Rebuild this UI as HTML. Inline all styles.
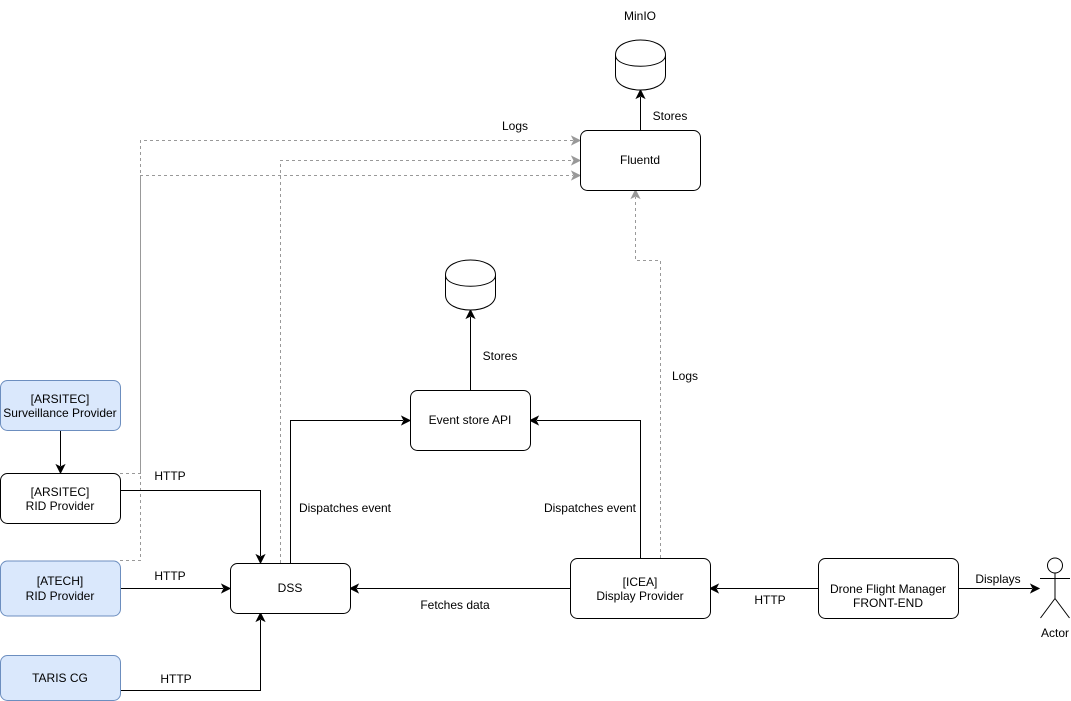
<!DOCTYPE html>
<html><head><meta charset="utf-8"><style>
html,body{margin:0;padding:0;background:#fff;}
svg{display:block;}
text{font-family:"Liberation Sans",Arial,sans-serif;font-size:12px;fill:#000;}
</style></head><body>
<svg width="1071" height="701" viewBox="0 0 1071 701" xmlns="http://www.w3.org/2000/svg">
<!-- dashed log lines -->
<g fill="none" stroke="#999" stroke-dasharray="3 3">
<path d="M120 560.5 H140.5 V140.5 H573"/>
<path d="M120 473.5 H140.5 V175.5 H573"/>
<path d="M280.5 563 V160.5 H573"/>
<path d="M660.5 558 V260.5 H635.5 V197"/>
</g>
<g fill="#999" stroke="#999">
<path d="M580 140.5 L572 136.5 L574 140.5 L572 144.5 Z"/>
<path d="M580 160.5 L572 156.5 L574 160.5 L572 164.5 Z"/>
<path d="M580 175.5 L572 171.5 L574 175.5 L572 179.5 Z"/>
<path d="M635.5 190 L631.5 198 L635.5 196 L639.5 198 Z"/>
</g>

<!-- solid edges -->
<g fill="none" stroke="#000">
<path d="M640.5 130 V97"/>
<path d="M470.5 390 V317"/>
<path d="M290.5 563 V420.5 H403"/>
<path d="M640.5 558 V420.5 H537"/>
<path d="M570 588.5 H357"/>
<path d="M818 588.5 H717"/>
<path d="M958 588.5 H1032"/>
<path d="M60.5 430 V466"/>
<path d="M120 490.5 H260.5 V556"/>
<path d="M120 588.5 H223"/>
<path d="M120 690.5 H260.5 V620"/>
</g>
<g fill="#000" stroke="#000">
<path d="M640.5 90 L636.5 98 L640.5 96 L644.5 98 Z"/>
<path d="M470.5 310 L466.5 318 L470.5 316 L474.5 318 Z"/>
<path d="M410 420.5 L402 416.5 L404 420.5 L402 424.5 Z"/>
<path d="M530 420.5 L538 416.5 L536 420.5 L538 424.5 Z"/>
<path d="M350 588.5 L358 584.5 L356 588.5 L358 592.5 Z"/>
<path d="M710 588.5 L718 584.5 L716 588.5 L718 592.5 Z"/>
<path d="M1039 588.5 L1031 584.5 L1033 588.5 L1031 592.5 Z"/>
<path d="M60.5 473 L56.5 465 L60.5 467 L64.5 465 Z"/>
<path d="M260.5 563 L256.5 555 L260.5 557 L264.5 555 Z"/>
<path d="M230 588.5 L222 584.5 L224 588.5 L222 592.5 Z"/>
<path d="M260.5 613 L256.5 621 L260.5 619 L264.5 621 Z"/>
</g>

<!-- cylinders -->
<g fill="#fff" stroke="#000">
<path d="M615.5 55 C615.5 35 665.5 35 665.5 55 V75 C665.5 95 615.5 95 615.5 75 Z"/>
<path d="M615.5 55 C615.5 70 665.5 70 665.5 55" fill="none"/>
<path d="M445.5 275 C445.5 255 495.5 255 495.5 275 V295 C495.5 315 445.5 315 445.5 295 Z"/>
<path d="M445.5 275 C445.5 290 495.5 290 495.5 275" fill="none"/>
</g>

<!-- boxes -->
<g stroke="#000" fill="#fff">
<rect x="580.5" y="130.5" width="120" height="60" rx="7"/>
<rect x="410.5" y="390.5" width="120" height="60" rx="7"/>
<rect x="230.5" y="563.5" width="120" height="50" rx="7"/>
<rect x="570.5" y="558.5" width="140" height="60" rx="7"/>
<rect x="818.5" y="558.5" width="140" height="60" rx="7"/>
<rect x="0.5" y="473.5" width="120" height="50" rx="7"/>
</g>
<g stroke="#6c8ebf" fill="#dae8fc">
<rect x="0.5" y="380.5" width="120" height="50" rx="7"/>
<rect x="0.5" y="561" width="120" height="55" rx="7"/>
<rect x="0.5" y="655.5" width="120" height="45" rx="7"/>
</g>

<!-- actor -->
<g fill="none" stroke="#000">
<ellipse cx="1055" cy="565.5" rx="7.5" ry="7.5" fill="#fff"/>
<path d="M1055 573 V598.5 M1040 578.5 H1070 M1055 598.5 L1040.5 618 M1055 598.5 L1069.5 618"/>
</g>

<!-- texts -->
<g text-anchor="middle">
<text x="640" y="20">MinIO</text>
<text x="670" y="120">Stores</text>
<text x="515" y="130">Logs</text>
<text x="640" y="164">Fluentd</text>
<text x="500" y="360">Stores</text>
<text x="685" y="380">Logs</text>
<text x="470" y="424">Event store API</text>
<text x="60" y="403">[ARSITEC]</text>
<text x="60" y="417">Surveillance Provider</text>
<text x="170" y="480">HTTP</text>
<text x="60" y="496">[ARSITEC]</text>
<text x="60" y="510">RID Provider</text>
<text x="345" y="512">Dispatches event</text>
<text x="590" y="512">Dispatches event</text>
<text x="170" y="580">HTTP</text>
<text x="60" y="585">[ATECH]</text>
<text x="60" y="600">RID Provider</text>
<text x="290" y="592">DSS</text>
<text x="455" y="609">Fetches data</text>
<text x="640" y="586">[ICEA]</text>
<text x="640" y="600">Display Provider</text>
<text x="770" y="604">HTTP</text>
<text x="888" y="593">Drone Flight Manager</text>
<text x="888" y="607">FRONT-END</text>
<text x="998" y="583">Displays</text>
<text x="1055" y="637">Actor</text>
<text x="60" y="682">TARIS CG</text>
<text x="176" y="683">HTTP</text>
</g>
</svg>
</body></html>
